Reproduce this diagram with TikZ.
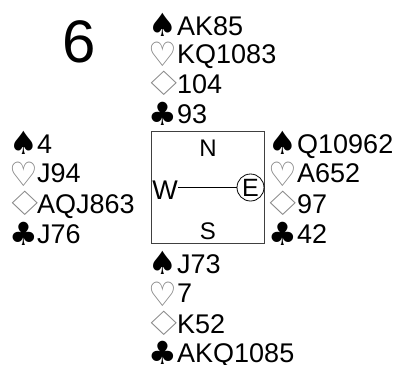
\documentclass[tikz,border=0pt]{standalone}
\usepackage{fontspec}
\usepackage{graphicx}
\setmainfont{Liberation Sans}
\newfontfamily\symfont{DejaVu Sans}
\definecolor{suitgray}{RGB}{130,130,130}
\tikzset{
  card/.style={anchor=base west, inner sep=0pt, font=\fontsize{27}{27}\selectfont},
  suitb/.style={anchor=center, inner sep=0pt, font=\symfont\fontsize{26}{26}\selectfont},
  suitw/.style={suitb, text=suitgray},
  dir/.style={inner sep=0pt, font=\fontsize{24}{24}\selectfont},
}
\newcommand{\sbx}[1]{\makebox[16pt][c]{#1}}
\newcommand{\spd}{\sbx{\scalebox{1.23}{♠}}}
\newcommand{\clb}{\sbx{\scalebox{1.23}{♣}}}
\newcommand{\dmd}{\sbx{\scalebox{1.78}[1.29]{♢}}}
\newcommand{\hrt}{\sbx{\scalebox{1.23}[1.29]{♡}}}
\begin{document}
\begin{tikzpicture}[x=1pt,y=-1pt]
\useasboundingbox (0,0) rectangle (408,365);
\node[inner sep=0pt, font=\fontsize{60}{60}\selectfont] (num) at (79,41.5) {6};
% North
\node[suitb] (ns) at (163,25) {\spd}; \node[card] (nS) at (177,35) {AK85};
\node[suitw] (nh) at (163,54) {\hrt}; \node[card] (nH) at (177,63.5) {KQ1083};
\node[suitw] (nd) at (164,83) {\dmd}; \node[card] (nD) at (177,93) {104};
\node[suitb] (nc) at (163,114) {\clb}; \node[card] (nC) at (177,123) {93};
% West
\node[suitb] (ws) at (24,143) {\spd}; \node[card] (wS) at (37,153) {4};
\node[suitw] (wh) at (24,174) {\hrt}; \node[card] (wH) at (37,182.5) {J94};
\node[suitw] (wd) at (25,203) {\dmd}; \node[card] (wD) at (37,213) {AQJ863};
\node[suitb] (wc) at (24,234) {\clb}; \node[card] (wC) at (37,243) {J76};
% East
\node[suitb] (es) at (282.5,143) {\spd}; \node[card] (eS) at (297,153) {Q10962};
\node[suitw] (eh) at (282.5,174) {\hrt}; \node[card] (eH) at (297,182.5) {A652};
\node[suitw] (ed) at (283.5,203) {\dmd}; \node[card] (eD) at (297,213) {97};
\node[suitb] (ec) at (282.5,234) {\clb}; \node[card] (eC) at (297,243) {42};
% South
\node[suitb] (ss) at (163,263) {\spd}; \node[card] (sS) at (177,273) {J73};
\node[suitw] (sh) at (163,294) {\hrt}; \node[card] (sH) at (177,302.5) {7};
\node[suitw] (sd) at (164,323) {\dmd}; \node[card] (sD) at (177,333) {K52};
\node[suitb] (sc) at (163,353) {\clb}; \node[card] (sC) at (177,362) {AKQ1085};
% compass box
\node[draw=black!75, line width=0.8pt, minimum width=113pt, minimum height=112pt, inner sep=0pt] (box) at (207.5,187) {};
\node[dir] (N) at (208,148.5) {N};
\node[dir] (S) at (208,231.5) {S};
\node[dir, font=\fontsize{27}{27}\selectfont] (W) at (165,190) {W};
\node[draw, circle, line width=0.8pt, minimum size=27pt, inner sep=0pt, font=\fontsize{25}{25}\selectfont] (E) at (250.5,187.5) {E};
\draw[line width=0.8pt] (W.east |- E.west) -- (E.west);
\end{tikzpicture}
\end{document}
